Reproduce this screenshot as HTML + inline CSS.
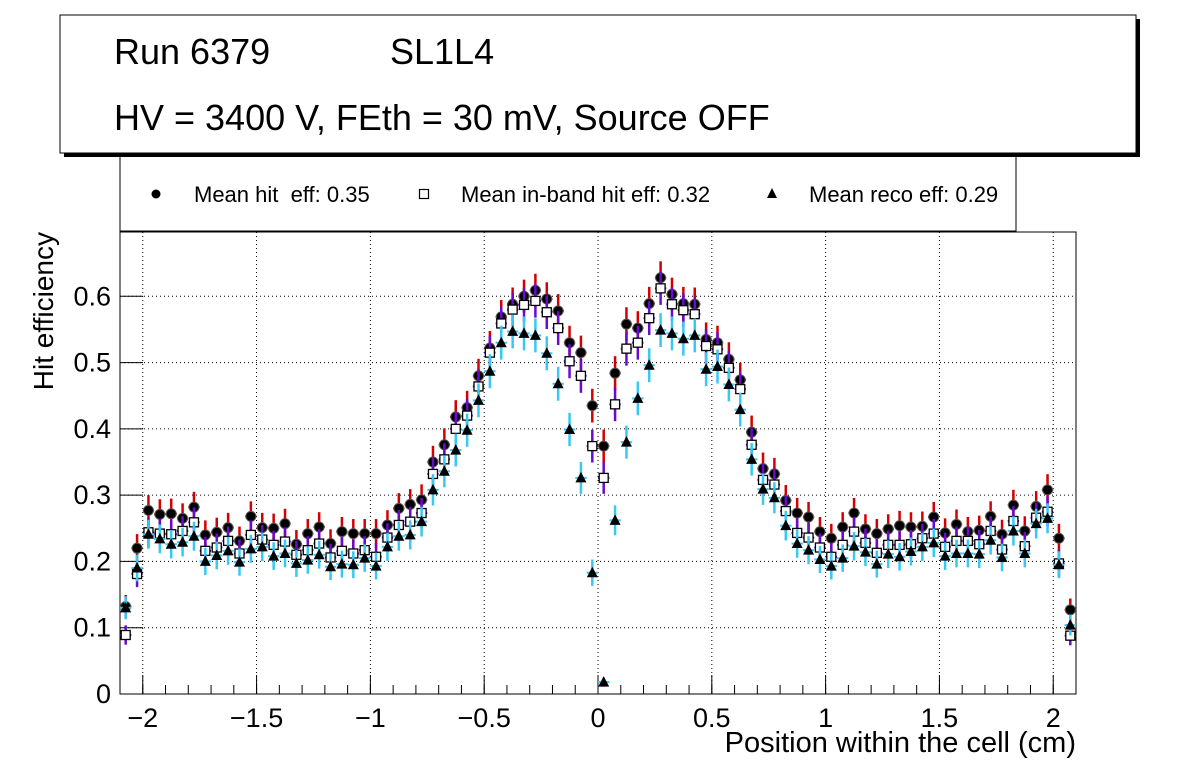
<!DOCTYPE html>
<html><head><meta charset="utf-8"><style>
html,body{margin:0;padding:0;background:#fff;}
body{width:1196px;height:772px;overflow:hidden;font-family:"Liberation Sans",sans-serif;}
text{white-space:pre;}
</style></head><body>
<svg id="chart" width="1196" height="772" xmlns="http://www.w3.org/2000/svg" font-family="Liberation Sans, sans-serif">
<g id="grid"></g>
<g id="axes"></g>
<g id="series"></g>
<g>
<rect x="120" y="150" width="896" height="81" fill="#fff" stroke="#000" stroke-width="1"/>
<circle cx="156" cy="194" r="4.5" fill="#000"/>
<text x="194" y="202" font-size="22" xml:space="preserve">Mean hit  eff: 0.35</text>
<rect x="419.5" y="189.5" width="9" height="9" fill="#fff" stroke="#000" stroke-width="1.2"/>
<text x="461" y="202" font-size="22">Mean in-band hit eff: 0.32</text>
<polygon points="772,188 767,198 777,198" fill="#000"/>
<text x="809" y="202" font-size="22">Mean reco eff: 0.29</text>
</g>
<g>
<rect x="64" y="19" width="1076" height="138" fill="#000"/>
<rect x="60" y="15" width="1076" height="138" fill="#fff" stroke="#000" stroke-width="1"/>
<text x="114" y="64" font-size="36">Run 6379</text>
<text x="390" y="64" font-size="36">SL1L4</text>
<text x="114" y="130" font-size="36">HV = 3400 V, FEth = 30 mV, Source OFF</text>
</g>
<text transform="translate(53,232) rotate(-90)" text-anchor="end" font-size="28">Hit efficiency</text>
<text x="1076" y="752" text-anchor="end" font-size="29">Position within the cell (cm)</text>
</svg>
<script>
const binCenters = [];
for (let i = 0; i < 84; i++) binCenters.push(-2.075 + 0.05 * i);
const hitEff = [0.132,0.220,0.277,0.271,0.272,0.265,0.282,0.240,0.244,0.251,0.231,0.268,0.251,0.250,0.257,0.226,0.242,0.252,0.227,0.245,0.242,0.242,0.242,0.255,0.280,0.286,
0.293,0.350,0.376,0.418,0.432,0.480,0.522,0.569,0.588,0.600,0.609,0.596,0.578,0.530,0.515,0.435,
0.374,0.484,0.558,0.552,0.589,0.628,0.603,0.589,0.588,0.535,0.530,0.505,0.474,0.395,0.340,0.332,0.292,0.273,
0.267,0.245,0.235,0.252,0.273,0.249,0.242,0.249,0.254,0.252,0.253,0.267,0.243,0.256,0.245,0.247,0.268,0.241,0.285,0.246,0.283,0.308,0.235,0.127];
const inBandEff = [0.089,0.181,0.244,0.242,0.241,0.246,0.259,0.216,0.221,0.231,0.212,0.240,0.233,0.225,0.230,0.210,0.217,0.227,0.206,0.216,0.212,0.217,0.207,0.236,0.255,0.260,
0.273,0.332,0.354,0.400,0.420,0.464,0.515,0.559,0.580,0.587,0.593,0.576,0.552,0.502,0.480,0.374,
0.326,0.437,0.521,0.530,0.567,0.612,0.588,0.579,0.573,0.525,0.520,0.492,0.460,0.376,0.323,0.316,0.276,0.243,
0.236,0.221,0.207,0.225,0.245,0.228,0.213,0.225,0.225,0.226,0.235,0.242,0.222,0.231,0.231,0.226,0.246,0.218,0.261,0.223,0.266,0.275,0.197,0.088];
const recoEff = [0.130,0.190,0.241,0.234,0.226,0.229,0.238,0.200,0.209,0.216,0.199,0.219,0.222,0.208,0.212,0.197,0.202,0.210,0.192,0.196,0.195,0.205,0.193,0.222,0.238,0.240,
0.260,0.308,0.336,0.368,0.398,0.443,0.487,0.530,0.547,0.544,0.541,0.514,0.468,0.399,0.326,0.183,
0.018,0.262,0.380,0.446,0.496,0.549,0.544,0.536,0.541,0.490,0.494,0.467,0.429,0.354,0.309,0.296,0.254,0.227,
0.217,0.203,0.193,0.205,0.223,0.214,0.196,0.211,0.207,0.215,0.222,0.228,0.208,0.212,0.212,0.211,0.232,0.206,0.246,0.212,0.257,0.265,0.195,0.104];
const xTicks = [-2,-1.5,-1,-0.5,0,0.5,1,1.5,2];
const xTickLabels = ["\u22122","\u22121.5","\u22121","\u22120.5","0","0.5","1","1.5","2"];
const yTicks = [0,0.1,0.2,0.3,0.4,0.5,0.6];
const yTickLabels = ["0","0.1","0.2","0.3","0.4","0.5","0.6"];

const NS = "http://www.w3.org/2000/svg";
const X0 = 120, X1 = 1076, Y0 = 694, Y1 = 232;
const xMin = -2.1, xMax = 2.1, yMin = 0, yMax = 0.697;
const xs = v => X0 + (v - xMin) / (xMax - xMin) * (X1 - X0);
const ys = v => Y0 - (v - yMin) / (yMax - yMin) * (Y0 - Y1);
function mk(tag, attrs, parent) {
  const e = document.createElementNS(NS, tag);
  for (const k in attrs) e.setAttribute(k, attrs[k]);
  parent.appendChild(e);
  return e;
}
const grid = document.getElementById('grid');
const axes = document.getElementById('axes');
const series = document.getElementById('series');
mk('rect', {x: X0, y: Y1, width: X1 - X0, height: Y0 - Y1, fill: '#fff', stroke: 'none'}, grid);
xTicks.forEach((t, i) => {
  const l = mk('line', {x1: xs(t), x2: xs(t), y1: Y1, y2: Y0, stroke: '#000', 'stroke-width': 1, 'stroke-dasharray': '1,3'}, grid);
  
  
  const tk = mk('line', {x1: xs(t), x2: xs(t), y1: Y0, y2: Y0 - 19, stroke: '#000', 'stroke-width': 1}, axes);
  
  
  const tx = mk('text', {x: xs(t), y: 727, 'text-anchor': 'middle', 'font-size': 27}, axes);
  tx.textContent = xTickLabels[i];
  
  
});
for (let k = -21; k <= 21; k++) {
  const v = k / 10;
  const m = mk('line', {x1: xs(v), x2: xs(v), y1: Y0, y2: Y0 - 9, stroke: '#000', 'stroke-width': 1}, axes);
  
  
}
yTicks.forEach((t, i) => {
  if (t > 0) {
    const l = mk('line', {x1: X0, x2: X1, y1: ys(t), y2: ys(t), stroke: '#000', 'stroke-width': 1, 'stroke-dasharray': '1,3'}, grid);
    
    
  }
  const tk = mk('line', {x1: X0, x2: X0 + 23, y1: ys(t), y2: ys(t), stroke: '#000', 'stroke-width': 1}, axes);
  
  
  const tx = mk('text', {x: 111, y: ys(t) + 9, 'text-anchor': 'end', 'font-size': 27}, axes);
  tx.textContent = yTickLabels[i];
  
  
});
const frame = mk('rect', {x: X0, y: Y1, width: X1 - X0, height: Y0 - Y1, fill: 'none', stroke: '#000', 'stroke-width': 1}, axes);



const N = 380;
function drawSeries(vals, color, kind, name) {
  const g = mk('g', {}, series);
  
  
  vals.forEach((v, i) => {
    const cx = xs(binCenters[i]), cy = ys(v);
    const err = Math.sqrt(Math.max(v * (1 - v), 0.01) / N);
    const eb = mk('line', {x1: cx, x2: cx, y1: ys(v + err), y2: ys(Math.max(v - err, 0)), stroke: color, 'stroke-width': 2.5}, g);
    
    
    const hb = mk('line', {x1: xs(binCenters[i] - 0.025), x2: xs(binCenters[i] + 0.025), y1: cy, y2: cy, stroke: color, 'stroke-width': 2}, g);
    
    
    let m;
    if (kind === 'circle') {
      m = mk('circle', {cx: cx, cy: cy, r: 5, fill: '#000', stroke: '#555', 'stroke-width': 1}, g);
    } else if (kind === 'square') {
      m = mk('rect', {x: cx - 4.5, y: cy - 4.5, width: 9, height: 9, fill: '#fff', stroke: '#000', 'stroke-width': 1.3}, g);
    } else {
      m = mk('polygon', {points: `${cx},${cy - 6} ${cx - 5.5},${cy + 4.5} ${cx + 5.5},${cy + 4.5}`, fill: '#000'}, g);
    }
    
    
  });
}
drawSeries(hitEff, '#d40000', 'circle', 'hit-eff');
drawSeries(inBandEff, '#6a0ad0', 'square', 'inband-hit-eff');
drawSeries(recoEff, '#38c8f4', 'triangle', 'reco-eff');
</script>
</body></html>
